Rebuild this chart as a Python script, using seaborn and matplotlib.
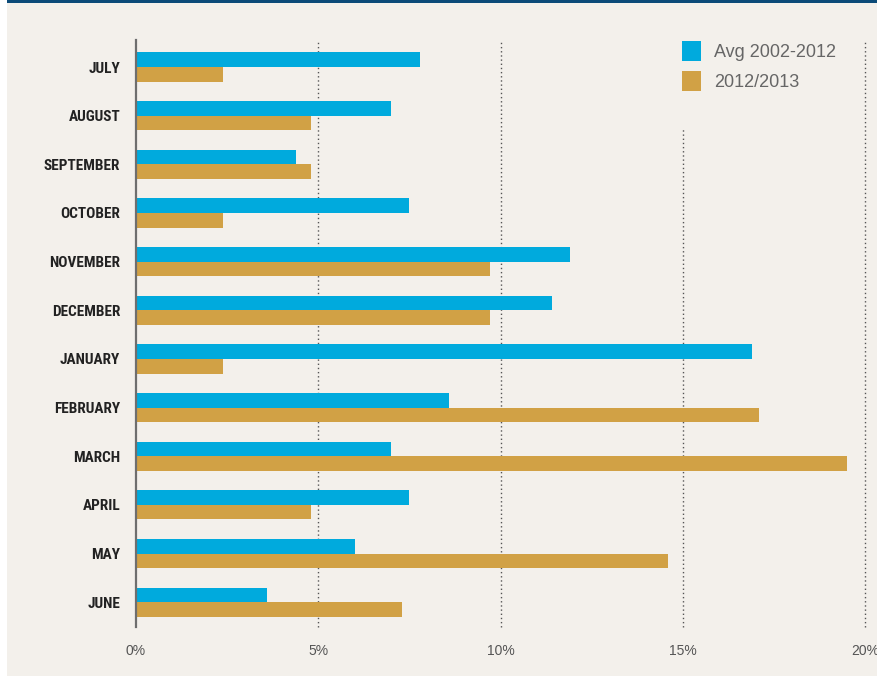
import matplotlib
matplotlib.use("Agg")
import matplotlib.pyplot as plt
from matplotlib import font_manager
from matplotlib.patches import Rectangle, Patch
import pandas as pd
import seaborn as sns

months = ["JULY", "AUGUST", "SEPTEMBER", "OCTOBER", "NOVEMBER", "DECEMBER",
          "JANUARY", "FEBRUARY", "MARCH", "APRIL", "MAY", "JUNE"]
avg_2002_2012 = [7.8, 7.0, 4.4, 7.5, 11.9, 11.4, 16.9, 8.6, 7.0, 7.5, 6.0, 3.6]
season_2012_2013 = [2.4, 4.8, 4.8, 2.4, 9.7, 9.7, 2.4, 17.1, 19.5, 4.8, 14.6, 7.3]
series_names = ["Avg 2002-2012", "2012/2013"]
x_ticks = [0, 5, 10, 15, 20]
x_tick_labels = ["0%", "5%", "10%", "15%", "20%"]

BLUE = "#00aadd"
GOLD = "#d1a145"
BG = "#f3f0eb"

df = pd.DataFrame({
    "month": months * 2,
    "value": avg_2002_2012 + season_2012_2013,
    "series": [series_names[0]] * len(months) + [series_names[1]] * len(months),
})

sns.set_style("white")
available = {f.name for f in font_manager.fontManager.ttflist}
narrow = "Liberation Sans"
for cand in ["Roboto Condensed", "Archivo Narrow", "Liberation Sans Narrow",
             "PT Sans Narrow", "Fira Sans Condensed", "IBM Plex Sans Condensed",
             "Barlow Semi Condensed", "Encode Sans Condensed", "Sofia Sans Condensed"]:
    if cand in available:
        narrow = cand
        break
plt.rcParams["font.family"] = ["Liberation Sans", "DejaVu Sans"]

fig = plt.figure(figsize=(8.78, 6.77), dpi=100, facecolor="white")
# page panel and header rule
fig.patches.append(Rectangle((7 / 878, 1 / 677), 1 - 7 / 878, 1 - 1 / 677,
                             transform=fig.transFigure, facecolor=BG,
                             edgecolor="none", zorder=-10))
fig.patches.append(Rectangle((7 / 878, 1 - 3 / 677), 1 - 7 / 878, 3 / 677,
                             transform=fig.transFigure, facecolor="#0b4a78",
                             edgecolor="none", zorder=-9))

ax = fig.add_axes([136 / 878, 1 - 627 / 677, (865 - 136) / 878, (627 - 40) / 677])
ax.set_facecolor("none")

sns.barplot(data=df, y="month", x="value", hue="series", orient="h",
            palette=[BLUE, GOLD], width=0.6, linewidth=0, saturation=1,
            dodge=True, legend=False, ax=ax, zorder=3)

ax.set_xlim(0, 20)
ax.set_ylim(11.51, -0.555)

# dotted reference lines
for t in x_ticks[1:]:
    top = 0.85 if t == 15 else 1.0
    ax.axvline(t, ymin=0, ymax=top, color="#555555", linestyle=(0, (1, 2)),
               linewidth=1.0, zorder=1, clip_on=False)

for s in ["top", "right", "bottom"]:
    ax.spines[s].set_visible(False)
ax.spines["left"].set_color("#6e6e6e")
ax.spines["left"].set_linewidth(1.6)
ax.spines["left"].set_zorder(4)

ax.set_xticks(x_ticks)
ax.set_xticklabels(x_tick_labels, color="#555555", fontsize=10)
ax.tick_params(axis="x", length=0, pad=12)
ax.tick_params(axis="y", length=0, pad=11.4)
for lab in ax.get_yticklabels():
    lab.set_fontfamily([narrow, "DejaVu Sans"])
    lab.set_fontweight("bold")
    lab.set_fontsize(11.0)
    lab.set_color("#222222")
ax.set_xlabel("")
ax.set_ylabel("")

handles = [Patch(facecolor=BLUE, edgecolor="none"), Patch(facecolor=GOLD, edgecolor="none")]
leg = fig.legend(handles, series_names, loc="upper left",
                 bbox_to_anchor=(682 / 878, 1 - 41 / 677), frameon=False,
                 fontsize=13, handlelength=1.05, handleheight=1.3,
                 handletextpad=0.75, labelspacing=0.55, borderpad=0,
                 borderaxespad=0)
for txt in leg.get_texts():
    txt.set_color("#666666")

fig.savefig("out.png", dpi=100, facecolor=fig.get_facecolor())
